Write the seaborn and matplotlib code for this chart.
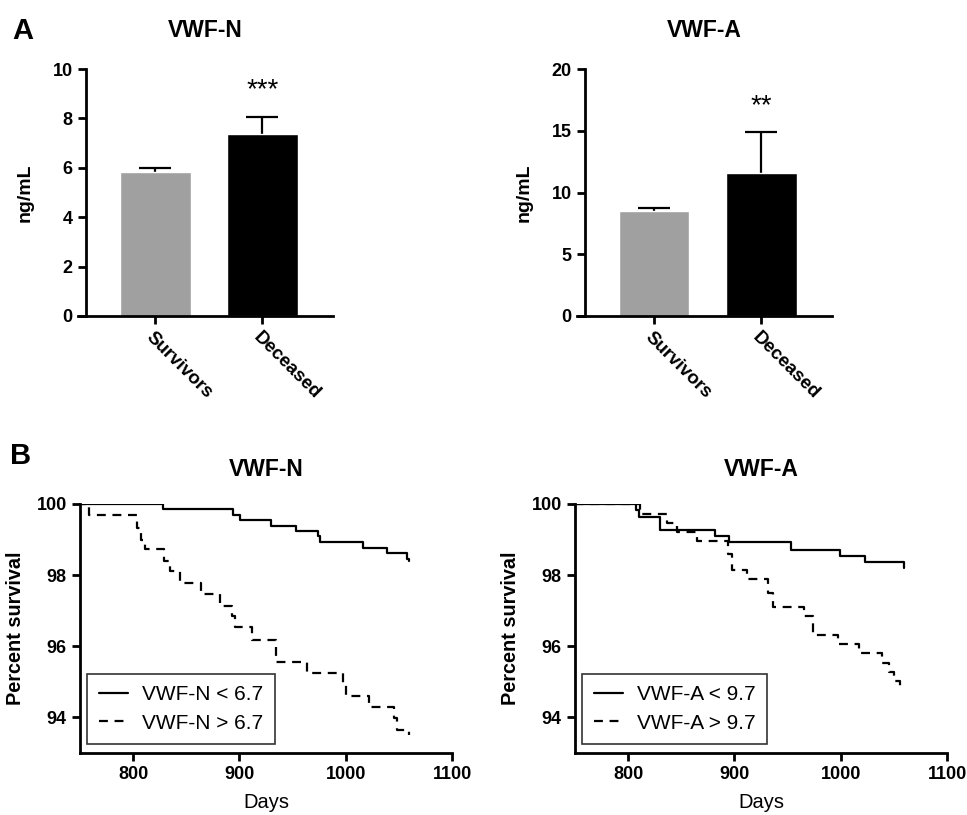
import numpy as np
import matplotlib
matplotlib.use("Agg")
import matplotlib.pyplot as plt
import seaborn as sns

# panel A: bar data (mean and upper error)
groups = ["Survivors", "Deceased"]
vwfn_mean = [5.85, 7.35]
vwfn_err = [0.15, 0.7]
vwfa_mean = [8.5, 11.6]
vwfa_err = [0.25, 3.3]
vwfn_stars = "***"
vwfa_stars = "**"

# panel B: Kaplan-Meier steps (days, percent survival)
vwfn_low_days = [0, 828, 894, 901, 930, 953, 974, 976, 1016, 1039, 1058, 1060]
vwfn_low_surv = [100, 99.85, 99.70, 99.54, 99.38, 99.23, 99.09, 98.93, 98.77, 98.63, 98.46, 98.40]
vwfn_high_days = [0, 758, 804, 807, 811, 829, 835, 844, 864, 882, 893, 896, 912, 934, 964, 997, 1000,
                  1022, 1045, 1048, 1060]
vwfn_high_surv = [100, 99.70, 99.33, 99.0, 98.74, 98.39, 98.11, 97.78, 97.47, 97.14, 96.85, 96.53, 96.18,
                  95.55, 95.24, 94.92, 94.60, 94.29, 93.97, 93.65, 93.50]
vwfa_low_days = [0, 807, 810, 830, 882, 895, 953, 999, 1023, 1060]
vwfa_low_surv = [100, 99.84, 99.63, 99.26, 99.09, 98.92, 98.72, 98.55, 98.36, 98.20]
vwfa_high_days = [0, 811, 837, 846, 865, 894, 898, 912, 932, 936, 965, 974, 997, 1017, 1039, 1045, 1050,
                  1056, 1058]
vwfa_high_surv = [100, 99.73, 99.47, 99.20, 98.95, 98.60, 98.15, 97.90, 97.50, 97.11, 96.84, 96.33, 96.07,
                  95.82, 95.53, 95.27, 95.02, 94.83, 94.83]

sns.set_style("ticks")
plt.rcParams['font.family'] = ['Liberation Sans', 'DejaVu Sans']
plt.rcParams['axes.linewidth'] = 2.0
for k in ['text.color', 'axes.labelcolor', 'xtick.color', 'ytick.color', 'axes.edgecolor']:
    plt.rcParams[k] = 'black'

fig = plt.figure(figsize=(9.67, 8.15), dpi=100)

bar_colors = ["#a0a0a0", "#000000"]


def bar_panel(rect, means, errs, title, ymax, ystep, stars, star_y):
    ax = fig.add_axes(rect)
    sns.barplot(x=groups, y=means, hue=groups, palette=bar_colors, width=0.66,
                errorbar=None, legend=False, ax=ax, saturation=1, zorder=2)
    # lower half sits behind the bar, only the upper whisker shows
    ax.errorbar([0, 1], means, yerr=errs, fmt="none", ecolor="black",
                elinewidth=1.6, capsize=11.5, capthick=1.6, zorder=1)
    ax.set_xlim(-0.72, 1.66)
    ax.set_ylim(0, ymax)
    ax.set_yticks(np.arange(0, ymax + 0.1, ystep))
    ax.spines['left'].set_position(('data', -0.645))
    sns.despine(ax=ax)
    ax.tick_params(width=2, length=6, labelsize=13)
    ax.set_xticks([0, 1])
    ax.set_xticklabels(groups, rotation=-45, ha="left", rotation_mode="anchor",
                       fontweight="bold", fontsize=13.5)
    for lab in ax.get_yticklabels():
        lab.set_fontweight("bold")
    ax.set_ylabel("ng/mL", fontweight="bold", fontsize=14, labelpad=14)
    ax.set_xlabel("")
    ax.set_title(title, fontweight="bold", fontsize=16.5, pad=23)
    ax.text(1, star_y, stars, ha="center", va="center", fontsize=20)
    return ax


bar_panel([78 / 967, 1 - 316 / 815, 255 / 967, 247 / 815], vwfn_mean, vwfn_err,
          "VWF-N", 10, 2, vwfn_stars, 9.15)
bar_panel([577 / 967, 1 - 316 / 815, 255 / 967, 247 / 815], vwfa_mean, vwfa_err,
          "VWF-A", 20, 5, vwfa_stars, 17.0)


def km_panel(rect, low, high, labels, title):
    ax = fig.add_axes(rect)
    sns.lineplot(x=low[0], y=low[1], drawstyle="steps-post", color="black",
                 linewidth=1.6, estimator=None, sort=False, ax=ax, label=labels[0])
    sns.lineplot(x=high[0], y=high[1], drawstyle="steps-post", color="black",
                 linewidth=1.6, linestyle=(0, (4, 3)), estimator=None, sort=False,
                 ax=ax, label=labels[1])
    ax.set_xlim(750, 1100)
    ax.set_ylim(93, 100)
    ax.set_xticks([800, 900, 1000, 1100])
    ax.set_yticks([94, 96, 98, 100])
    ax.spines['left'].set_bounds(93, 100)
    sns.despine(ax=ax)
    ax.tick_params(width=2, length=6, labelsize=13)
    for lab in ax.get_xticklabels() + ax.get_yticklabels():
        lab.set_fontweight("bold")
    ax.set_xlabel("Days", fontsize=14.5, labelpad=7)
    ax.set_ylabel("Percent survival", fontsize=14.3, fontweight="bold", labelpad=8)
    ax.set_title(title, fontweight="bold", fontsize=16.5, pad=20)
    leg = ax.legend(loc="lower left", bbox_to_anchor=(0.019, 0.036), borderaxespad=0,
                    frameon=True, fancybox=False, fontsize=15, handlelength=1.4,
                    handletextpad=0.7, borderpad=0.55, labelspacing=0.45)
    leg.get_frame().set_edgecolor("black")
    leg.get_frame().set_linewidth(1.2)
    return ax


km_panel([80 / 967, 62 / 815, 372 / 967, 249 / 815],
         (vwfn_low_days, vwfn_low_surv), (vwfn_high_days, vwfn_high_surv),
         ["VWF-N < 6.7", "VWF-N > 6.7"], "VWF-N")
km_panel([575 / 967, 62 / 815, 372 / 967, 249 / 815],
         (vwfa_low_days, vwfa_low_surv), (vwfa_high_days, vwfa_high_surv),
         ["VWF-A < 9.7", "VWF-A > 9.7"], "VWF-A")

fig.text(12 / 967, 1 - 39 / 815, "A", fontsize=21, fontweight="bold")
fig.text(10 / 967, 1 - 464 / 815, "B", fontsize=21, fontweight="bold")

plt.savefig("out.png", dpi=100)
